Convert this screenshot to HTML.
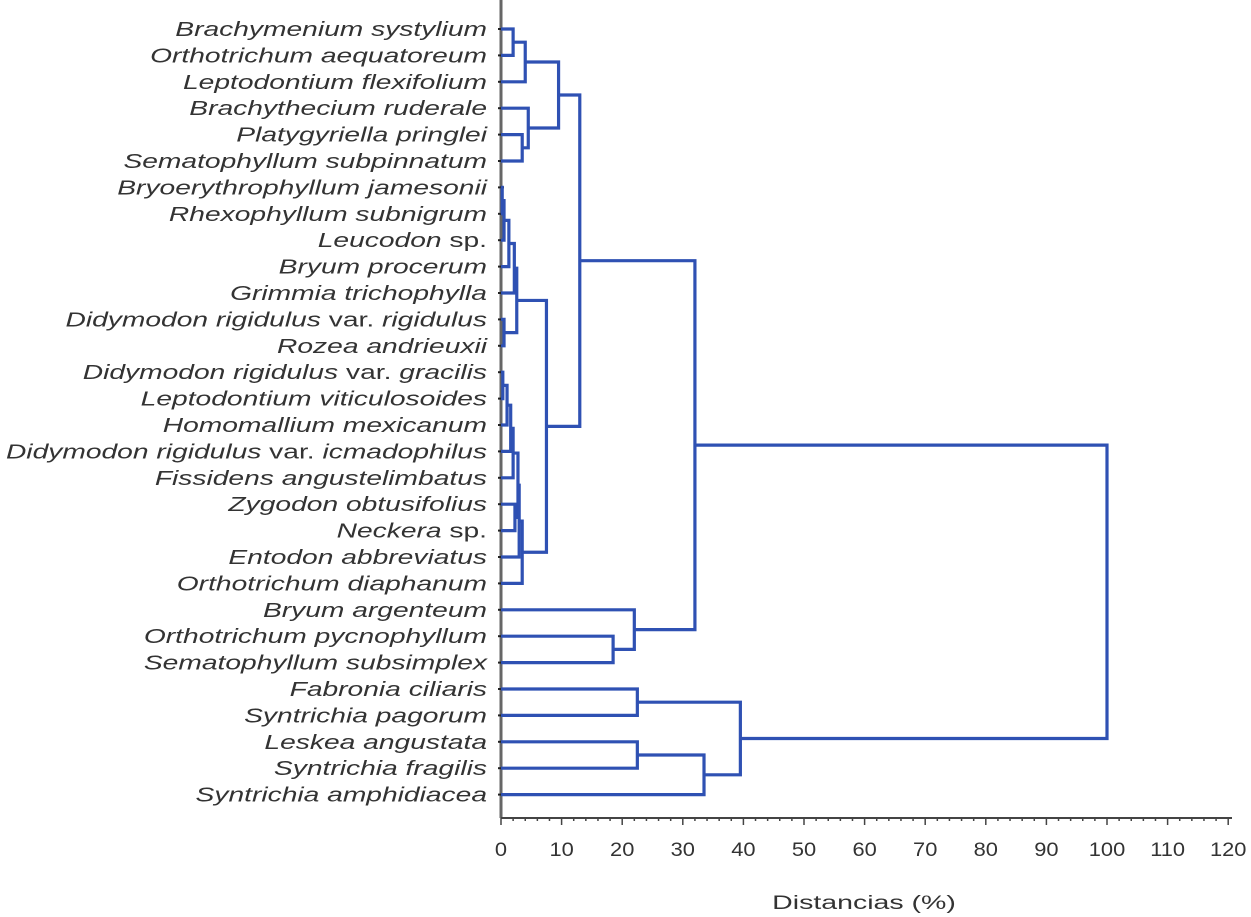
<!DOCTYPE html>
<html><head><meta charset="utf-8"><style>
body{margin:0;background:#fff;}
svg{display:block;font-family:"Liberation Sans",sans-serif;}
</style></head><body>
<svg id="c" width="1251" height="917"></svg>
<script>
const leaves=["Brachymenium systylium","Orthotrichum aequatoreum","Leptodontium flexifolium","Brachythecium ruderale","Platygyriella pringlei","Sematophyllum subpinnatum","Bryoerythrophyllum jamesonii","Rhexophyllum subnigrum","Leucodon|sp.","Bryum procerum","Grimmia trichophylla","Didymodon rigidulus|var.|rigidulus","Rozea andrieuxii","Didymodon rigidulus|var.|gracilis","Leptodontium viticulosoides","Homomallium mexicanum","Didymodon rigidulus|var.|icmadophilus","Fissidens angustelimbatus","Zygodon obtusifolius","Neckera|sp.","Entodon abbreviatus","Orthotrichum diaphanum","Bryum argenteum","Orthotrichum pycnophyllum","Sematophyllum subsimplex","Fabronia ciliaris","Syntrichia pagorum","Leskea angustata","Syntrichia fragilis","Syntrichia amphidiacea"];
const mergeA=[0,30,4,3,31,6,35,36,11,37,39,13,41,42,18,43,45,46,47,40,34,23,22,50,25,27,55,54,53];
const mergeB=[1,2,5,32,33,7,8,9,12,10,38,14,15,16,19,17,44,20,21,48,49,24,51,52,26,28,29,56,57];
const heights=[2,4,3.5,4.5,9.5,0.2,0.5,1.3,0.5,2.2,2.6,0.3,1.0,1.6,2.3,2.0,2.8,3.0,3.5,7.5,13,18.5,22,32,22.5,22.5,33.5,39.5,100];
const ticks=[0,10,20,30,40,50,60,70,80,90,100,110,120];
const NS="http://www.w3.org/2000/svg";
const svg=document.getElementById('c');
const X=v=>501+v*6.06, Y=i=>29+i*26.4;
function mk(t,a){const e=document.createElementNS(NS,t);for(const k in a)e.setAttribute(k,a[k]);svg.appendChild(e);return e;}
let ax=mk('line',{x1:501,y1:0,x2:501,y2:818,stroke:'#666','stroke-width':3});


let bx=mk('line',{x1:501,y1:818,x2:1232,y2:818,stroke:'#444','stroke-width':2});


for(let v=0;v<=120;v+=2){let m=mk('line',{x1:X(v),y1:818,x2:X(v),y2:v%10==0?825:821,stroke:'#444','stroke-width':1.5});

}
ticks.forEach(v=>{let t=mk('text',{x:0,y:0,'text-anchor':'middle','font-size':19,fill:'#333',transform:`translate(${X(v)},856) scale(1.15,1)`});t.textContent=v;

});
let tt=mk('text',{x:0,y:0,'text-anchor':'middle','font-size':19,fill:'#333',transform:'translate(864,909) scale(1.5,1)'});tt.textContent='Distancias (%)';


const px={},py={};
leaves.forEach((n,i)=>{px[i]=X(0);py[i]=Y(i);
let m=mk('line',{x1:498,y1:Y(i),x2:504,y2:Y(i),stroke:'#222','stroke-width':2});


let t=mk('text',{x:0,y:0,'text-anchor':'end','font-size':20,fill:'#333',transform:`translate(487,${Y(i)+7}) scale(1.41,1)`});


const parts=n.split('|');
parts.forEach((p,k)=>{const s=document.createElementNS(NS,'tspan');s.textContent=(k?' ':'')+p;if(!(parts.length>1&&k%2==1))s.setAttribute('font-style','italic');t.appendChild(s);});
});
heights.forEach((h,k)=>{const a=mergeA[k],b=mergeB[k],id=30+k;
const xh=X(h);
let p=mk('path',{d:`M${px[a]},${py[a]}H${xh}V${py[b]}H${px[b]}`,fill:'none',stroke:'#2f51b3','stroke-width':3.2});


px[id]=xh;py[id]=(py[a]+py[b])/2;});
</script>
</body></html>
